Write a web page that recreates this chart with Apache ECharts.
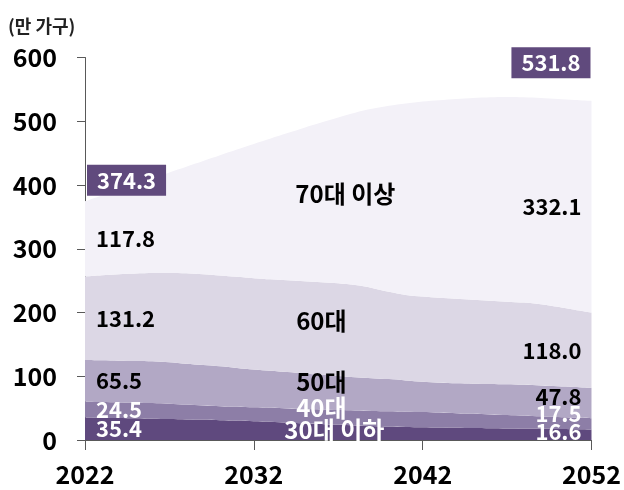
<!DOCTYPE html>
<html>
<head>
<meta charset="utf-8">
<script src="https://cdn.jsdelivr.net/npm/echarts@6/dist/echarts.min.js"></script>
<style>
  html, body { margin: 0; padding: 0; background: #fff; }
  #chart { width: 624px; height: 490px; }
</style>
</head>
<body>
<div id="chart"></div>
<script>
// 연령대별 가구 수 (만 가구), 2022~2052
const years = ['2022', '2023', '2024', '2025', '2026', '2027', '2028', '2029', '2030', '2031',
  '2032', '2033', '2034', '2035', '2036', '2037', '2038', '2039', '2040', '2041',
  '2042', '2043', '2044', '2045', '2046', '2047', '2048', '2049', '2050', '2051', '2052']
const xTickLabels = ['2022', '2032', '2042', '2052']
const groupNames = ['30대 이하', '40대', '50대', '60대', '70대 이상']

const under30 = [35.4, 35, 34.5, 34, 33.5, 33, 32.3, 31.6, 31, 30.3,
  29.6, 28.8, 27.5, 26.2, 25, 23.8, 22.7, 21.8, 21, 20.4,
  19.9, 19.5, 19.1, 18.7, 18.4, 18.1, 17.8, 17.5, 17.2, 16.9, 16.6]
const age40s = [24.5, 24.5, 24.5, 24.5, 24.5, 24, 23.2, 22.4, 22, 21.7,
  21.6, 21.7, 22, 22.3, 22.8, 23.2, 23.6, 23.8, 24, 24.1,
  23.9, 23.5, 22.9, 22.3, 21.6, 21.1, 20.4, 19.7, 19, 18.3, 17.5]
const age50s = [65.5, 65.5, 65.5, 65.5, 65.5, 65, 64, 63.5, 62.5, 61,
  59.3, 58, 57, 56, 54.7, 53.5, 52.2, 51.4, 50.5, 49,
  47.7, 47, 47, 47.3, 47.8, 48.1, 48.3, 48.3, 48.3, 48.1, 47.8]
const age60s = [131.2, 133.5, 135.5, 137, 138.3, 140, 142, 142.5, 142.5, 143,
  143.3, 143.5, 144, 144.5, 145, 145.5, 144.5, 141.5, 137, 134,
  133.5, 133, 132.5, 131.7, 130.7, 129.7, 129, 127.5, 124.5, 121.2, 118.0]
const over70 = [117.8, 125, 132.5, 140.5, 148.7, 157.5, 167, 177.5, 188.5, 199.5,
  210.7, 221, 231, 241, 250.5, 260, 270.5, 281, 292, 300.5,
  306, 310, 313.5, 316.5, 319, 321, 322, 323.5, 326, 329, 332.1]
// 발표된 합계 (반올림)
const totals = [374.3, 531.8]

const layers = [under30, age40s, age50s, age60s, over70]
const layerColors = ['#5f497e', '#8d7ea7', '#b2a8c5', '#dcd7e5', '#f3f1f8']
const textColors = ['#fff', '#fff', '#000', '#000', '#000']
const boxColor = '#604a7d'
const font = "'Noto Sans CJK KR', 'Noto Sans', sans-serif"
const last = years.length - 1

// 누적 기준 중간값
function midOf(k, i) {
  let base = 0
  for (let j = 0; j < k; j++) base += layers[j][i]
  return base + layers[k][i] / 2
}
function stackTop(i) {
  let s = 0
  for (let j = 0; j < layers.length; j++) s += layers[j][i]
  return s
}

const valueLabelStyle = { fontFamily: font, fontSize: 22, fontWeight: 'bold' }
const rightShift = [-3, -10.5, -6, 0, 0]
const nameOffset = [[13, -2], [0, -9], [0, -10], [0, -8], [24, -8]]

let labelData = []
layers.forEach((arr, k) => {
  labelData.push({
    value: [years[0], midOf(k, 0)],
    label: Object.assign({ show: true, position: 'right', distance: 11, color: textColors[k],
      formatter: arr[0].toFixed(1) }, valueLabelStyle)
  })
  labelData.push({
    value: [years[last], midOf(k, last)],
    label: Object.assign({ show: true, position: 'left', distance: 10, color: textColors[k],
      offset: [0, rightShift[k]], formatter: arr[last].toFixed(1) }, valueLabelStyle)
  })
  labelData.push({
    value: [years[14], midOf(k, 14)],
    label: { show: true, position: 'inside', color: textColors[k], offset: nameOffset[k],
      formatter: groupNames[k], fontFamily: font, fontSize: 24, fontWeight: 'bold' }
  })
})
const boxStyle = { show: true, backgroundColor: boxColor, color: '#fff', padding: [5, 10, 4, 10],
  fontFamily: font, fontSize: 22, fontWeight: 'bold' }
labelData.push({
  value: [years[0], stackTop(0)],
  label: Object.assign({}, boxStyle, { position: 'right', distance: 2, offset: [0, -21], formatter: totals[0].toFixed(1) })
})
labelData.push({
  value: [years[last], stackTop(last)],
  label: Object.assign({}, boxStyle, { position: 'left', distance: 1, offset: [0, -38], formatter: totals[1].toFixed(1) })
})

const areaSeries = layers.map((arr, k) => ({
  name: groupNames[k],
  type: 'line',
  stack: 'total',
  data: arr,
  smooth: 0.3,
  showSymbol: false,
  lineStyle: { width: 0 },
  areaStyle: { color: layerColors[k], opacity: 1 },
  silent: true,
  z: 2
}))

const chart = echarts.init(document.getElementById('chart'))
chart.setOption({
  animation: false,
  title: {
    text: '(만 가구)',
    left: 3,
    top: 12,
    textStyle: { fontFamily: font, fontSize: 18, fontWeight: 'bold', color: '#222' }
  },
  grid: { left: 85, right: 28, top: 57.5, bottom: 50 },
  xAxis: {
    type: 'category',
    data: years,
    boundaryGap: false,
    axisLine: { lineStyle: { color: '#595959', width: 1 } },
    axisTick: { show: true, length: 10, interval: 9, lineStyle: { color: '#595959' } },
    axisLabel: {
      interval: 9,
      margin: 22,
      color: '#000',
      fontFamily: font,
      fontSize: 25,
      fontWeight: 'bold',
      formatter: v => (xTickLabels.indexOf(v) >= 0 ? v : '')
    },
    splitLine: { show: false }
  },
  yAxis: {
    type: 'value',
    min: 0,
    max: 600,
    interval: 100,
    axisLine: { show: true, lineStyle: { color: '#595959', width: 1 } },
    axisTick: { show: true, length: 8, lineStyle: { color: '#595959' } },
    axisLabel: { margin: 28, color: '#000', fontFamily: font, fontSize: 25, fontWeight: 'bold' },
    splitLine: { show: false }
  },
  series: areaSeries.concat([{
    type: 'scatter',
    symbolSize: 0,
    silent: true,
    itemStyle: { opacity: 1 },
    z: 10,
    data: labelData
  }])
})
</script>
</body>
</html>
